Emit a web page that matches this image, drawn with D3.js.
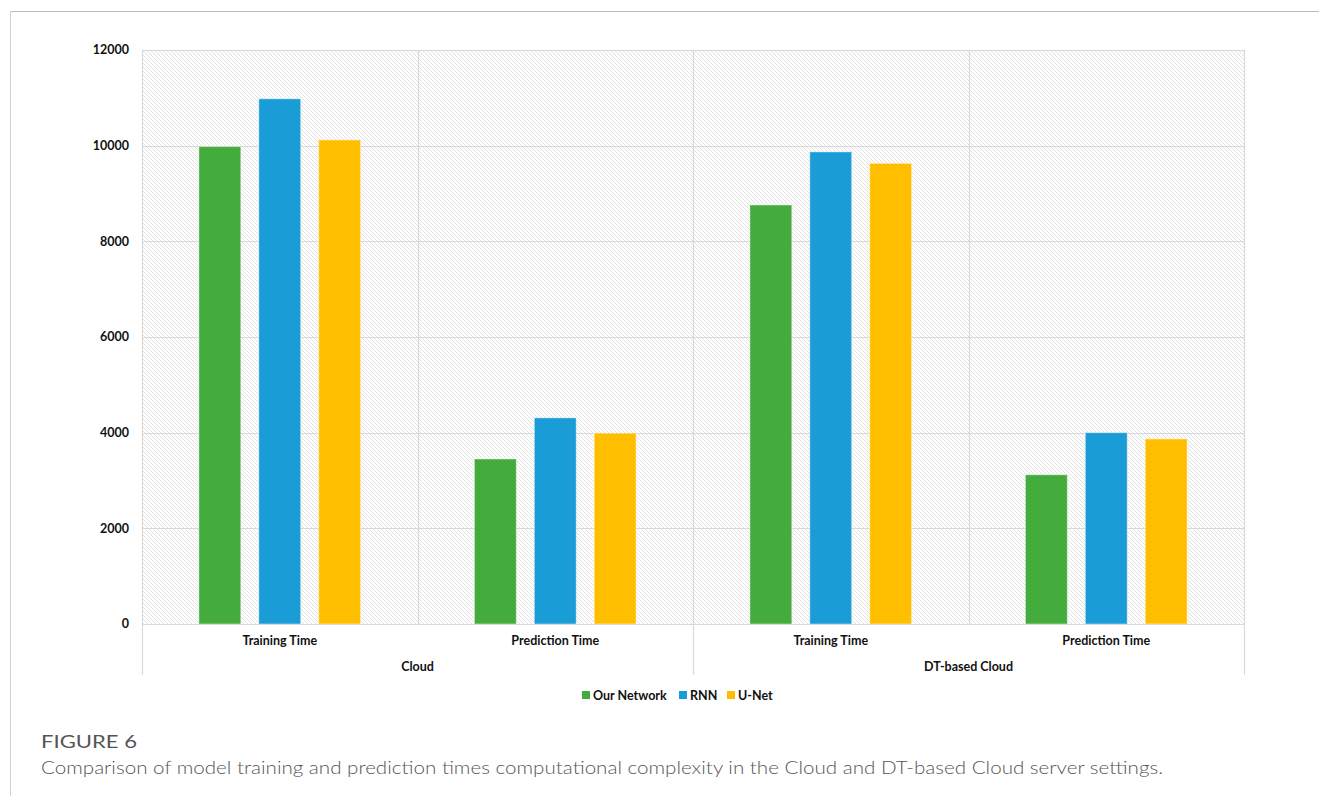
<!DOCTYPE html>
<html>
<head>
<meta charset="utf-8">
<script src="https://cdn.jsdelivr.net/npm/d3@7"></script>
<style>
  body { margin: 0; background: #fff; }
  text { font-family: Lato, "Open Sans", sans-serif; }
</style>
</head>
<body>
<div id="chart-area"></div>
<script>
// data
var groups = ["Cloud", "DT-based Cloud"];
var phases = ["Training Time", "Prediction Time"];
var series = ["Our Network", "RNN", "U-Net"];
var ourNetwork = [9980, 3450, 8760, 3120];
var rnn = [10980, 4310, 9870, 4000];
var unet = [10120, 3990, 9630, 3870];
var yTicks = [0, 2000, 4000, 6000, 8000, 10000, 12000];

var colors = ["#44AC3C", "#1A9CD6", "#FFBF00"];
var values = [ourNetwork, rnn, unet];

var W = 1319, H = 796;
var margin = { left: 142, top: 50, right: 75, bottom: 172 };
var width = W - margin.left - margin.right;
var height = H - margin.top - margin.bottom;

var svg = d3.select("#chart-area")
    .append("svg")
    .attr("width", W)
    .attr("height", H);

// frame lines
svg.append("line").attr("x1", 10).attr("x2", W).attr("y1", 11.5).attr("y2", 11.5)
    .attr("stroke", "#bdbdbd").attr("stroke-width", 1);
svg.append("line").attr("x1", 10.5).attr("x2", 10.5).attr("y1", 11).attr("y2", H)
    .attr("stroke", "#d0d0d0").attr("stroke-width", 1);

// hatch pattern
var defs = svg.append("defs");
var pat = defs.append("pattern")
    .attr("id", "hatch")
    .attr("patternUnits", "userSpaceOnUse")
    .attr("width", 4)
    .attr("height", 4);
pat.append("path")
    .attr("d", "M-1,-1 L5,5 M3,-1 L5,1 M-1,3 L1,5")
    .attr("stroke", "#dedede")
    .attr("stroke-width", 0.9);

var g = svg.append("g")
    .attr("transform", "translate(" + margin.left + "," + margin.top + ")");

// categories: each phase within each group
var cats = [];
groups.forEach(function (gr) {
    phases.forEach(function (p) { cats.push(gr + "|" + p); });
});

var x0 = d3.scaleBand().domain(cats).range([0, width]).padding(0);
var x1 = d3.scaleBand().domain(series).range([0, x0.bandwidth()])
    .paddingInner(0.3).paddingOuter(0.95);
var xg = d3.scaleBand().domain(groups).range([0, width]).padding(0);

var y = d3.scaleLinear().domain([0, 12000]).range([height, 0]);

g.append("rect")
    .attr("width", width).attr("height", height)
    .attr("fill", "url(#hatch)");

// gridlines
g.selectAll(".hgrid").data(yTicks).enter().append("line")
    .attr("class", "hgrid")
    .attr("x1", 0).attr("x2", width)
    .attr("y1", function (d) { return Math.round(y(d)) + 0.5; })
    .attr("y2", function (d) { return Math.round(y(d)) + 0.5; })
    .attr("stroke", "#d9d9d9").attr("stroke-width", 1.2);

var vlines = cats.map(function (c) { return x0(c); }).concat([width]);
g.selectAll(".vgrid").data(vlines).enter().append("line")
    .attr("class", "vgrid")
    .attr("x1", function (d) { return Math.round(d) + 0.5; })
    .attr("x2", function (d) { return Math.round(d) + 0.5; })
    .attr("y1", 0).attr("y2", height)
    .attr("stroke", "#d9d9d9").attr("stroke-width", 1.2);

// bars
series.forEach(function (s, si) {
    g.selectAll(".bar-" + si).data(values[si]).enter().append("rect")
        .attr("class", "bar-" + si)
        .attr("x", function (d, i) { return x0(cats[i]) + x1(s); })
        .attr("y", function (d) { return y(d); })
        .attr("width", x1.bandwidth())
        .attr("height", function (d) { return height - y(d); })
        .attr("fill", colors[si])
        .attr("stroke", "#ffffff")
        .attr("stroke-opacity", 0.45)
        .attr("stroke-width", 1);
});

// y axis labels
g.selectAll(".ylab").data(yTicks).enter().append("text")
    .attr("class", "ylab")
    .attr("x", -13)
    .attr("y", function (d) { return y(d); })
    .attr("dy", "0.35em")
    .attr("text-anchor", "end")
    .attr("font-size", "12.5px")
    .attr("font-weight", "bold")
    .attr("fill", "#111")
    .text(function (d) { return d; });

// category axis
g.append("line")
    .attr("x1", 0).attr("x2", width)
    .attr("y1", height + 0.5).attr("y2", height + 0.5)
    .attr("stroke", "#d9d9d9").attr("stroke-width", 1.2);

var gsep = groups.map(function (gr) { return xg(gr); }).concat([width]);
g.selectAll(".gsep").data(gsep).enter().append("line")
    .attr("class", "gsep")
    .attr("x1", function (d) { return Math.round(d) + 0.5; })
    .attr("x2", function (d) { return Math.round(d) + 0.5; })
    .attr("y1", height).attr("y2", height + 51)
    .attr("stroke", "#d9d9d9").attr("stroke-width", 1.2);

g.selectAll(".clab").data(cats).enter().append("text")
    .attr("class", "clab")
    .attr("x", function (d) { return x0(d) + x0.bandwidth() / 2; })
    .attr("y", height + 21)
    .attr("text-anchor", "middle")
    .attr("font-size", "12.5px")
    .attr("font-weight", "bold")
    .attr("fill", "#111")
    .text(function (d) { return d.split("|")[1]; });

g.selectAll(".glab").data(groups).enter().append("text")
    .attr("class", "glab")
    .attr("x", function (d) { return xg(d) + xg.bandwidth() / 2; })
    .attr("y", height + 47)
    .attr("text-anchor", "middle")
    .attr("font-size", "12.5px")
    .attr("font-weight", "bold")
    .attr("fill", "#111")
    .text(function (d) { return d; });

// legend
var legendX = [582, 679, 727];
var legend = svg.append("g");
series.forEach(function (s, si) {
    legend.append("rect")
        .attr("x", legendX[si]).attr("y", 691)
        .attr("width", 8).attr("height", 8)
        .attr("fill", colors[si]);
    legend.append("text")
        .attr("x", legendX[si] + 11).attr("y", 699.5)
        .attr("font-size", "12.5px")
        .attr("font-weight", "bold")
        .attr("fill", "#111")
        .text(s);
});

// caption
svg.append("text")
    .attr("x", 41).attr("y", 748)
    .attr("font-size", "18px")
    .attr("fill", "#555")
    .attr("textLength", 96)
    .attr("lengthAdjust", "spacingAndGlyphs")
    .text("FIGURE 6");
svg.append("text")
    .attr("x", 41).attr("y", 774)
    .attr("font-size", "17.5px")
    .attr("font-weight", "300")
    .attr("fill", "#555")
    .attr("textLength", 1122)
    .attr("lengthAdjust", "spacingAndGlyphs")
    .text("Comparison of model training and prediction times computational complexity in the Cloud and DT-based Cloud server settings.");
</script>
</body>
</html>
